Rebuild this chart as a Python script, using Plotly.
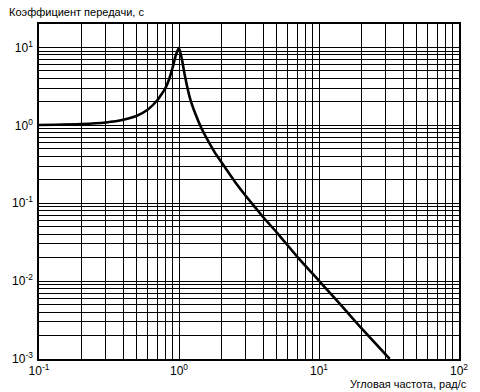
import plotly.graph_objects as go

# Angular frequency, rad/s
omega = [0.1, 0.2, 0.3, 0.4, 0.5, 0.6, 0.7, 0.75, 0.8, 0.85, 0.9, 0.95, 1.0,
         1.05, 1.1, 1.2, 1.3, 1.45, 1.6, 1.8, 2.0, 2.5, 3.0, 4.0, 5.0, 7.0, 10.0,
         15.0, 20.0, 32.0]
# Transfer coefficient
gain = [1.01, 1.04, 1.09, 1.18, 1.33, 1.6, 2.1, 2.5, 3.0, 3.9, 5.5, 8.0, 9.9,
        7.0, 4.4, 2.2, 1.45, 0.91, 0.65, 0.45, 0.34, 0.19, 0.124, 0.066, 0.042, 0.0205, 0.0101,
        0.0045, 0.0025, 0.001]

x_ticks = [0.1, 1, 10, 100]
x_ticktext = ["10<sup>-1</sup>", "10<sup>0</sup>", "10<sup>1</sup>", "10<sup>2</sup>"]
y_ticks = [0.001, 0.01, 0.1, 1, 10]
y_ticktext = ["10<sup>-3</sup>", "10<sup>-2</sup>", "10<sup>-1</sup>", "10<sup>0</sup>", "10<sup>1</sup>"]

y_title = "Коэффициент передачи, с"
x_title = "Угловая частота, рад/с"

font = "Liberation Sans, Arial, sans-serif"

fig = go.Figure()
fig.add_trace(go.Scatter(x=omega, y=gain, mode="lines",
                         line=dict(color="black", width=2.6, shape="spline", smoothing=0.4),
                         showlegend=False, hoverinfo="skip"))

axis_common = dict(
    type="log",
    showgrid=True, gridcolor="black", gridwidth=1.3,
    showline=True, linecolor="black", linewidth=1.5, mirror=True,
    ticks="", tickfont=dict(family=font, size=12, color="black"),
    minor=dict(showgrid=True, gridcolor="black", gridwidth=1.3, dtick="D1", ticks=""),
    zeroline=False,
)

fig.update_xaxes(range=[-1, 2], tickvals=x_ticks, ticktext=x_ticktext, ticklabelstandoff=0, **axis_common)
fig.update_yaxes(range=[-3, 1.301], tickvals=y_ticks, ticktext=y_ticktext, ticklabelstandoff=2, **axis_common)

fig.add_annotation(text=y_title, xref="paper", yref="paper", x=-0.077, y=1.036,
                   xanchor="left", yanchor="middle", showarrow=False,
                   font=dict(family=font, size=11, color="black"))
fig.add_annotation(text=x_title, xref="paper", yref="paper", x=1.023, y=-0.05,
                   xanchor="right", yanchor="top", showarrow=False,
                   font=dict(family=font, size=11, color="black"))

fig.update_layout(width=480, height=392, margin=dict(l=36, r=15, t=24, b=33),
                  plot_bgcolor="white", paper_bgcolor="white")
fig.write_html("out.html", config={"displayModeBar": False},
               post_script="document.body.style.margin='0';document.body.style.overflow='hidden';")
